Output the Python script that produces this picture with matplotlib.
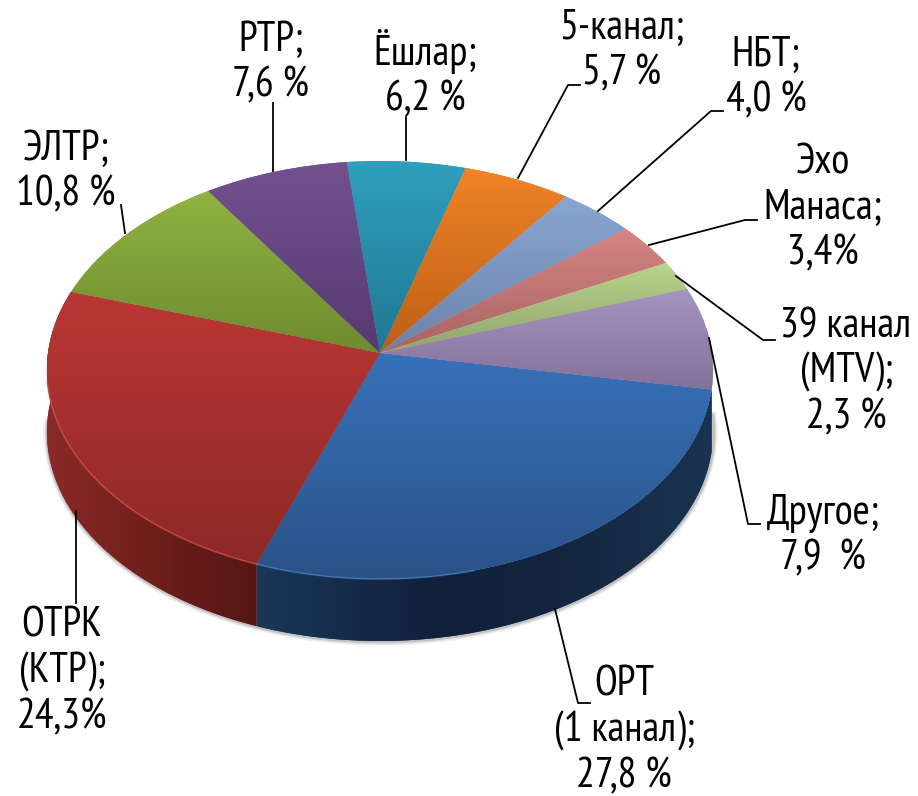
import numpy as np
import matplotlib
matplotlib.use("Agg")
import matplotlib.pyplot as plt
from matplotlib import font_manager as fm
from matplotlib.patches import Polygon
from matplotlib.transforms import Transform
from matplotlib.colors import to_rgb

installed = {f.name for f in fm.fontManager.ttflist}
narrow_fonts = [n for n in ['PT Sans Narrow', 'Roboto Condensed', 'Liberation Sans Narrow', 'Liberation Sans', 'DejaVu Sans']
                if n in installed]
plt.rcParams['font.family'] = narrow_fonts

channels = ["ОРТ", "ОТРК", "ЭЛТР", "РТР", "Ёшлар", "5-канал", "НБТ", "Эхо Манаса", "39 канал", "Другое"]
shares = [27.8, 24.3, 10.8, 7.6, 6.2, 5.7, 4.0, 3.4, 2.3, 7.9]

# top and bottom colour of each slice
top_colors = ["#3771b8", "#bb3636", "#90b341", "#73518f", "#2f9fbe",
              "#ef8326", "#88a6d4", "#d68583", "#bad38d", "#a794be"]
bottom_colors = ["#2a5288", "#8c2927", "#6e8b30", "#553a70", "#217890",
                 "#bd5f18", "#6c83a8", "#a76563", "#8fa56c", "#83719a"]

# label text, x centre, baseline of last line
label_texts = ["ОРТ\n(1 канал);\n27,8 %", "ОТРК\n(КТР);\n24,3%", "ЭЛТР;\n10,8 %", "РТР;\n7,6 %",
               "Ёшлар;\n6,2 %", "5-канал;\n5,7 %", "НБТ;\n4,0 %", "Эхо\nМанаса;\n3,4%",
               "39 канал\n(MTV);\n2,3 %", "Другое;\n7,9  %"]
label_x = [624, 62, 66, 271, 425, 622, 766, 823, 846, 823]
label_y = [787, 728, 205, 96, 110, 84, 111, 264, 428, 569]

leaders = [
    [(555, 609), (578, 703), (590, 703)],
    [(76, 511), (76, 603)],
    [(121, 205), (125, 233)],
    [(273, 103), (273, 171)],
    [(405.5, 117), (405.5, 160)],
    [(518, 178), (568, 85), (580, 85)],
    [(598, 211), (711, 111), (723, 111)],
    [(649, 245), (745, 220), (757, 220)],
    [(676, 276), (763, 340), (775, 340)],
    [(709, 338), (748, 524), (760, 524)],
]

CX, CY = 380, 353
A, B, K = 332, 207.6, 0.0814
DEPTH = 62


class DiscProjection(Transform):
    # unit pie disc -> picture pixels, tilted with some perspective
    input_dims = 2
    output_dims = 2

    def transform_non_affine(self, values):
        values = np.asarray(values, dtype=float)
        w = 1 + K * values[:, 1]
        return np.column_stack((CX + A * values[:, 0] / w, CY - B * values[:, 1] / w))


def arc_pixels(theta1, theta2, dy=0):
    t = np.radians(np.linspace(theta1, theta2, 200))
    pts = proj.transform(np.column_stack((np.cos(t), np.sin(t))))
    pts[:, 1] += dy
    return pts


def gradient(c1, c2):
    c1, c2 = np.array(to_rgb(c1)), np.array(to_rgb(c2))
    f = np.linspace(0, 1, 256)[:, None]
    return (c1 + (c2 - c1) * f)[:, None, :]


fig = plt.figure(figsize=(9.18, 7.96), dpi=100)
ax = fig.add_axes([0, 0, 1, 1])
proj = DiscProjection()

wedges, _ = ax.pie(shares, startangle=-10, counterclock=False, radius=1, colors=top_colors,
                   wedgeprops={"linewidth": 0, "zorder": 5})

# soft shadow and side wall
wall_stops = [[(258, "#1a3659"), (440, "#10203a"), (560, "#14263f"), (713, "#1a3350")],
              [(47, "#8a2a28"), (150, "#6f1f1c"), (258, "#551614")]]
low = arc_pixels(-178, 0, DEPTH)
for lw, alpha in [(6, 0.08), (4, 0.12), (2.5, 0.2)]:
    ax.plot(low[:, 0] + 0.5, low[:, 1] + 0.5, color="#555555", lw=lw, alpha=alpha, zorder=1)

for wedge, stops in zip(wedges[:2], wall_stops):
    upper = arc_pixels(wedge.theta1, wedge.theta2)
    lower = arc_pixels(wedge.theta1, wedge.theta2, DEPTH)
    wall = Polygon(np.vstack((upper, lower[::-1])), closed=True, facecolor=stops[0][1],
                   edgecolor="none", zorder=2)
    ax.add_patch(wall)
    xs = np.linspace(stops[0][0], stops[-1][0], 256)
    rgb = np.array([to_rgb(c) for _, c in stops])
    row = np.column_stack([np.interp(xs, [s[0] for s in stops], rgb[:, i]) for i in range(3)])
    im = ax.imshow(row[None, :, :], extent=(xs[0], xs[-1], 700, 300), aspect="auto", zorder=3,
                   interpolation="bilinear")
    im.set_clip_path(wall)

# top face
for wedge, c1, c2 in zip(wedges, top_colors, bottom_colors):
    wedge.set_transform(proj + ax.transData)
    wedge.set_facecolor(c1)
    arc = arc_pixels(wedge.theta1, wedge.theta2)
    y0 = min(arc[:, 1].min(), CY)
    y1 = max(arc[:, 1].max(), CY)
    im = ax.imshow(gradient(c1, c2), extent=(0, 918, y1, y0), aspect="auto", zorder=6,
                   interpolation="bilinear")
    im.set_clip_path(wedge)

# light rim along the front edge
rim = arc_pixels(-110, -75)
ax.plot(rim[:, 0], rim[:, 1], color="#4d86c8", lw=1.2, alpha=0.6, zorder=7)
rim = arc_pixels(-172, -110)
ax.plot(rim[:, 0], rim[:, 1], color="#cf5048", lw=1.2, alpha=0.7, zorder=7)

for pts in leaders:
    xs, ys = zip(*pts)
    ax.plot(xs, ys, color="black", lw=1.3, solid_joinstyle="round", zorder=8)

for txt, x, y in zip(label_texts, label_x, label_y):
    ax.text(x, y, txt, ha="center", va="baseline", multialignment="center",
            fontsize=30, color="black", zorder=9)

ax.set_aspect("auto")
ax.set_xlim(0, 918)
ax.set_ylim(796, 0)
ax.axis("off")

fig.savefig("out.png", dpi=100, facecolor="white")
